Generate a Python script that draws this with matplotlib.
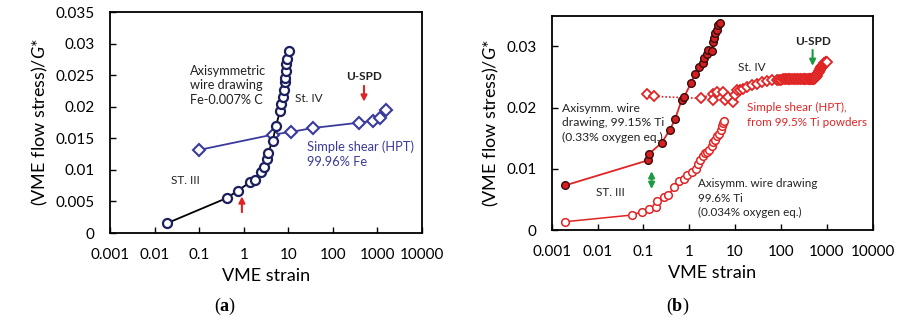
import numpy as np
import matplotlib
matplotlib.use("Agg")
import matplotlib.pyplot as plt

plt.rcParams['font.family'] = ['Lato', 'DejaVu Sans']
plt.rcParams['mathtext.fontset'] = 'custom'
plt.rcParams['mathtext.rm'] = 'Lato'
plt.rcParams['mathtext.it'] = 'Lato:italic'
plt.rcParams['mathtext.bf'] = 'Liberation Serif:bold'

# ---- panel (a): Fe ----
fe_wire_strain = [0.0187, 0.414, 0.73, 1.38, 1.75, 2.39, 2.79, 3.31, 3.49, 4.45, 5.27,
                  6.48, 6.82, 7.45, 7.85, 8.26, 8.39, 8.7, 8.97, 9.16, 10.2]
fe_wire_stress = [0.00153, 0.00553, 0.00668, 0.00805, 0.00832, 0.00968, 0.01053, 0.0118,
                  0.01263, 0.01457, 0.0169, 0.01926, 0.0205, 0.0216, 0.0227, 0.0239,
                  0.0245, 0.0257, 0.0268, 0.0276, 0.0288]
fe_hpt_strain = [0.1, 4.6, 11.3, 35.7, 382, 787, 1167, 1563]
fe_hpt_stress = [0.01316, 0.0156, 0.0160, 0.01663, 0.01747, 0.01774, 0.01821, 0.01942]

# ---- panel (b): Ti ----
ti_wire1_strain = [0.00195, 0.128, 0.134, 0.25, 0.38, 0.49, 0.68, 0.77, 1.09, 1.33, 1.66,
                   1.96, 2.13, 2.4, 2.52, 3.08, 3.24, 3.46, 3.64, 3.96, 4.3, 4.68]
ti_wire1_stress = [0.00728, 0.0114, 0.01249, 0.01422, 0.0164, 0.0181, 0.0212, 0.0217,
                   0.024, 0.0255, 0.0266, 0.0272, 0.0281, 0.0288, 0.0294, 0.0292, 0.0307,
                   0.0314, 0.0321, 0.0327, 0.0335, 0.0338]
ti_wire2_strain = [0.00195, 0.0555, 0.0918, 0.134, 0.188, 0.201, 0.285, 0.349, 0.472, 0.607,
                   0.767, 0.88, 1.13, 1.38, 1.57, 1.71, 1.96, 2.2, 2.4, 2.73, 3.08, 3.24,
                   3.64, 3.96, 4.52, 4.84, 5.09, 5.52, 5.72]
ti_wire2_stress = [0.00135, 0.00244, 0.00298, 0.00342, 0.0037, 0.00472, 0.00532, 0.0057,
                   0.00706, 0.00798, 0.0084, 0.00896, 0.0095, 0.0100, 0.01075, 0.0115,
                   0.01205, 0.0125, 0.01275, 0.01314, 0.01368, 0.01438, 0.01466, 0.01531,
                   0.01563, 0.01629, 0.01694, 0.01748, 0.0178]
ti_hpt_strain = [0.1216, 0.17, 1.77, 3.24, 3.34, 3.96, 5.52, 6.01, 7.1, 9.12, 9.93, 10.8,
                 12.8, 15.1, 17.9, 23, 29.5, 37.9, 48.8, 62.7, 80.5, 90, 100, 110, 120, 130,
                 140, 150, 160, 175, 190, 205, 220, 240, 260, 280, 300, 320, 340, 360, 380,
                 400, 420, 440, 460, 480, 500, 520, 540, 560, 580, 600, 620, 640, 660, 680,
                 700, 720, 740, 760, 780, 800, 820, 840, 860, 880, 900, 920, 940, 960, 980,
                 1000]
ti_hpt_stress = [0.02215, 0.02182, 0.0215, 0.02226, 0.02129, 0.02252, 0.02252, 0.02117,
                 0.02171, 0.0209, 0.022, 0.0228, 0.0229, 0.02308, 0.02334, 0.02362, 0.02389,
                 0.0241, 0.02432, 0.02443, 0.02454, 0.02456, 0.02458, 0.0246, 0.0246, 0.0246,
                 0.0246, 0.0246, 0.0246, 0.0246, 0.0246, 0.0246, 0.0246, 0.0246, 0.0246,
                 0.0246, 0.0246, 0.0246, 0.0246, 0.0246, 0.0246, 0.0246, 0.0246, 0.0246,
                 0.0246, 0.0246, 0.0246, 0.0247, 0.0248, 0.0249, 0.0250, 0.0252, 0.0254,
                 0.0256, 0.0258, 0.0260, 0.0262, 0.0263, 0.0265, 0.0266, 0.0267, 0.0268,
                 0.0269, 0.0270, 0.0271, 0.0272, 0.0273, 0.0273, 0.0274, 0.0274, 0.0275,
                 0.0275]

xticks = [0.001, 0.01, 0.1, 1, 10, 100, 1000, 10000]
xticklabels = ['0.001', '0.01', '0.1', '1', '10', '100', '1000', '10000']

navy = '#1c1f5e'
blue = '#3a3a9c'
red = '#e02424'
green = '#1e9a40'
txt = '#222222'

fig = plt.figure(figsize=(8.99, 3.23), dpi=100)
axa = fig.add_axes([0.1224, 0.2786, 0.347, 0.6842])
axb = fig.add_axes([0.6137, 0.2879, 0.357, 0.6635])

for ax in (axa, axb):
    ax.set_xscale('log')
    ax.set_xlim(0.001, 10000)
    ax.set_ylim(0, 0.035)
    ax.set_xticks(xticks)
    ax.set_xticklabels(xticklabels)
    ax.minorticks_off()
    ax.tick_params(direction='in', length=4, width=1, labelsize=11, pad=11)
    for s in ax.spines.values():
        s.set_linewidth(1.3)
    ax.set_xlabel('VME strain', fontsize=13, labelpad=4)
    ax.set_ylabel('(VME flow stress)/$G$*', fontsize=13)


def arrow(ax, x, y0, y1, color, style='-|>'):
    ax.annotate('', xy=(x, y1), xytext=(x, y0),
                arrowprops=dict(arrowstyle=style, color=color, lw=1.5,
                                mutation_scale=9, shrinkA=0, shrinkB=0))


# panel (a)
axa.set_yticks([0, 0.005, 0.01, 0.015, 0.02, 0.025, 0.03, 0.035])
axa.set_yticklabels(['0', '0.005', '0.01', '0.015', '0.02', '0.025', '0.03', '0.035'])
axa.plot(fe_hpt_strain, fe_hpt_stress, color=blue, lw=1.3, marker='D', ms=6,
         mfc='white', mec=blue, mew=1.5, zorder=2)
axa.plot(fe_wire_strain, fe_wire_stress, color='black', lw=1.3, marker='o', ms=6.5,
         mfc='white', mec=navy, mew=1.6, zorder=3)
axa.text(0.062, 0.0234, 'Axisymmetric\nwire drawing\nFe-0.007% C', fontsize=9.2,
         ha='left', va='center', linespacing=1.25, color=txt)
axa.text(29, 0.0213, 'St. IV', fontsize=8.5, ha='center', va='center', color=txt)
axa.text(500, 0.0248, 'U-SPD', fontsize=8.5, ha='center', va='center', fontweight='bold',
         color=txt)
axa.text(0.05, 0.0083, 'ST. III', fontsize=8.5, ha='center', va='center', color=txt)
axa.text(26.5, 0.01255, 'Simple shear (HPT)\n99.96% Fe', fontsize=9.3, ha='left',
         va='center', linespacing=1.3, color=blue)
arrow(axa, 500, 0.0233, 0.0208, red)
arrow(axa, 0.91, 0.0033, 0.0058, red)

# panel (b)
axb.set_yticks([0, 0.01, 0.02, 0.03])
axb.set_yticklabels(['0', '0.01', '0.02', '0.03'])
axb.plot(ti_hpt_strain, ti_hpt_stress, color=red, lw=1.2, ls=(0, (1, 1.2)), marker='D',
         ms=5, mfc='white', mec=red, mew=1.3, zorder=2)
axb.plot(ti_wire2_strain, ti_wire2_stress, color=red, lw=1.1, marker='o', ms=5.5,
         mfc='white', mec=red, mew=1.1, zorder=3)
axb.plot(ti_wire1_strain, ti_wire1_stress, color=red, lw=1.3, marker='o', ms=5.5,
         mfc='#d42020', mec='#3a0a0a', mew=1.0, zorder=4)
axb.text(0.00165, 0.0175, 'Axisymm. wire\ndrawing, 99.15% Ti\n(0.33% oxygen eq.)',
         fontsize=8.7, ha='left', va='center', linespacing=1.35, color=txt)
axb.text(0.0187, 0.0061, 'ST. III', fontsize=8.5, ha='center', va='center', color=txt)
axb.text(23, 0.0266, 'St. IV', fontsize=8.5, ha='center', va='center', color=txt)
axb.text(500, 0.0308, 'U-SPD', fontsize=8.5, ha='center', va='center', fontweight='bold',
         color=txt)
axb.text(17.9, 0.0188, 'Simple shear (HPT),\nfrom 99.5% Ti powders', fontsize=8.4,
         ha='left', va='center', linespacing=1.4, color=red)
axb.text(1.53, 0.0052, 'Axisymm. wire drawing\n99.6% Ti\n(0.034% oxygen eq.)',
         fontsize=8.4, ha='left', va='center', linespacing=1.4, color=txt)
arrow(axb, 490, 0.0294, 0.0268, green)
arrow(axb, 0.151, 0.0096, 0.0067, green, '<|-|>')

fig.text(225 / 899, 1 - 306 / 323, r'($\mathbf{a}$)', fontsize=13,
         family='Liberation Serif', ha='center', va='center')
fig.text(678 / 899, 1 - 306 / 323, r'($\mathbf{b}$)', fontsize=13,
         family='Liberation Serif', ha='center', va='center')

fig.savefig('out.png', dpi=100)
